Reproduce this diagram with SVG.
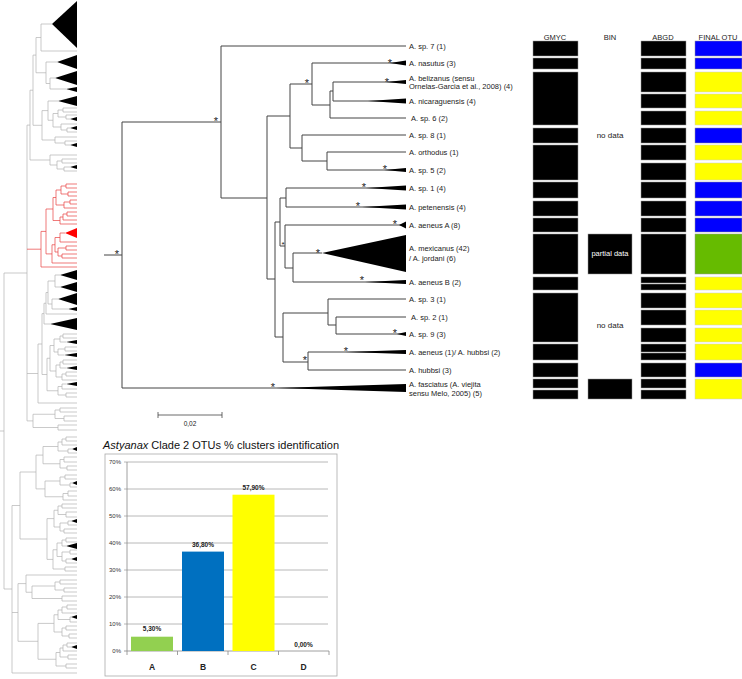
<svg xmlns="http://www.w3.org/2000/svg" width="742" height="679" viewBox="0 0 742 679">
<style>
.ov{fill:none;stroke:#b3b3b3;stroke-width:0.7}
.ovr{fill:none;stroke:#e84040;stroke-width:0.7}
.tri{fill:#000}
.br{fill:none;stroke:#444;stroke-width:1}
.lb{font-family:"Liberation Sans",Arial,sans-serif;font-size:7.5px;fill:#222}
.ast{font-family:"Liberation Sans",Arial,sans-serif;font-size:11px;fill:#222;text-anchor:middle}
.hd{font-family:"Liberation Sans",Arial,sans-serif;font-size:7.5px;fill:#222;text-anchor:middle}
.bk{fill:#000;stroke:#999;stroke-width:0.5}
.bl{fill:#0000ff;stroke:#999;stroke-width:0.5}
.ye{fill:#ffff00;stroke:#ccc;stroke-width:0.5}
.gr{fill:#66bb00;stroke:#999;stroke-width:0.5}
.nd{font-family:"Liberation Sans",Arial,sans-serif;font-size:8px;fill:#222;text-anchor:middle}
.ax{font-family:"Liberation Sans",Arial,sans-serif;font-size:6px;fill:#333;text-anchor:end}
.dl{font-family:"Liberation Sans",Arial,sans-serif;font-size:6.5px;font-weight:bold;fill:#222;text-anchor:middle}
.cl{font-family:"Liberation Sans",Arial,sans-serif;font-size:8.5px;font-weight:bold;fill:#222;text-anchor:middle}
.grid{stroke:#a6a6a6;stroke-width:0.8}
</style>

<g id="overview-tree">
<path class="ov" d="M41,24V51 M41,24H52 M41,51H77 M50,78V89 M50,78H55 M50,89H66 M46,62V83.5 M46,62H57 M46,83.5H50 M36,37.5V72.75 M36,37.5H41 M36,72.75H46 M63,108V112 M63,108H77 M63,112H77 M66,115V119 M66,115H77 M66,119H70 M58,110V117 M58,110H63 M58,117H66 M67,128V132 M67,128H70 M67,132H77 M61,124V130 M61,124H77 M61,130H67 M53,113.5V127 M53,113.5H58 M53,127H61 M48,101V120.25 M48,101H58 M48,120.25H53 M65,141V145 M65,141H77 M65,145H70 M55,137V143 M55,137H77 M55,143H65 M42,110.6V140 M42,110.6H48 M42,140H55 M33,55.1V125.3 M33,55.1H36 M33,125.3H42 M62,159V163 M62,159H77 M62,163H77 M64,167V171 M64,167H70 M64,171H77 M57,161V169 M57,161H62 M57,169H64 M50,155V165 M50,155H77 M50,165H57 M30,90.2V160 M30,90.2H33 M30,160H50
M55,275V287 M55,275H60 M55,287H60 M52,299V309 M52,299H58 M52,309H68 M48,281V304 M48,281H55 M48,304H52 M46,292.5V314 M46,292.5H48 M46,314H77 M44,303.25V324 M44,303.25H46 M44,324H50 M63,334V338 M63,334H77 M63,338H77 M60,336V342 M60,336H63 M60,342H66 M65,347V351 M65,347H77 M65,351H77 M58,349V355 M58,349H65 M58,355H64 M54,339V352 M54,339H60 M54,352H58 M63,360V364 M63,360H77 M63,364H77 M60,362V368 M60,362H63 M60,368H66 M66,372V376 M66,372H77 M66,376H77 M62,374V380 M62,374H66 M62,380H77 M56,365V377 M56,365H60 M56,377H62 M50,345.5V371 M50,345.5H54 M50,371H56 M62,384V389 M62,384H66 M62,389H77 M66,393V397 M66,393H77 M66,397H77 M58,386.5V395 M58,386.5H62 M58,395H66 M47,358.25V390.75 M47,358.25H50 M47,390.75H58 M42,313.6V374.5 M42,313.6H44 M42,374.5H47 M38,344V403 M38,344H42 M38,403H77
M60,408V412 M60,408H77 M60,412H77 M64,416V421 M64,416H77 M64,421H77 M55,410V418.5 M55,410H60 M55,418.5H64 M58,425V430 M58,425H77 M58,430H77 M33,414.25V427.5 M33,414.25H55 M33,427.5H58
M27,125.1V420.9 M27,125.1H30 M27,373.5H38 M27,420.9H33
M66,437V441 M66,437H77 M66,441H77 M62,439V445 M62,439H66 M62,445H77 M68,449V453 M68,449H72 M68,453H77 M58,442V451 M58,442H62 M58,451H68 M64,457V462 M64,457H77 M64,462H77 M67,466V470 M67,466H77 M67,470H77 M60,459.5V468 M60,459.5H64 M60,468H67 M43,446.5V463.75 M43,446.5H58 M43,463.75H60
M65,475V479 M65,475H77 M65,479H77 M70,483V487 M70,483H72 M70,487H77 M60,477V485 M60,477H65 M60,485H70 M68,491V496 M68,491H77 M68,496H77 M63,493.5V500 M63,493.5H68 M63,500H77 M45,481V496.75 M45,481H60 M45,496.75H63 M36,455.1V488.9 M36,455.1H43 M36,488.9H45
M62,504V508 M62,504H77 M62,508H77 M66,512V517 M66,512H77 M66,517H77 M58,506V514.5 M58,506H62 M58,514.5H66 M68,521V525 M68,521H71 M68,525H77 M64,529V533 M64,529H77 M64,533H77 M60,523V531 M60,523H68 M60,531H64 M54,510.25V527 M54,510.25H58 M54,527H60 M66,538V542 M66,538H77 M66,542H77 M62,540V546 M62,540H66 M62,546H66 M70,550V554 M70,550H77 M70,554H77 M66,559V563 M66,559H71 M66,563H77 M62,552V561 M62,552H70 M62,561H66 M57,543V556.5 M57,543H62 M57,556.5H62 M65,567V571 M65,567H77 M65,571H77 M53,549.75V569 M53,549.75H57 M53,569H65 M47,518.6V559.4 M47,518.6H54 M47,559.4H53 M20,472V539 M20,472H36 M20,539H47
M60,580V584 M60,580H77 M60,584H77 M64,588V592 M64,588H77 M64,592H77 M55,582V590 M55,582H60 M55,590H64 M62,596V601 M62,596H77 M62,601H77 M32,586V598.5 M32,586H55 M32,598.5H62 M26,575V592.25 M26,575H77 M26,592.25H32
M67,605V609 M67,605H77 M67,609H77 M62,607V613 M62,607H67 M62,613H77 M70,617V622 M70,617H71 M70,622H77 M58,610V619.5 M58,610H62 M58,619.5H70 M66,626V630 M66,626H77 M66,630H77 M69,634V638 M69,634H77 M69,638H77 M62,628V636 M62,628H66 M62,636H69 M54,614.75V632 M54,614.75H58 M54,632H62 M67,643V647 M67,643H77 M67,647H71 M63,645V651 M63,645H67 M63,651H77 M68,655V659 M68,655H77 M68,659H77 M60,648V657 M60,648H63 M60,657H68 M66,664V668 M66,664H77 M66,668H77 M56,652.5V666 M56,652.5H60 M56,666H66 M38,623.4V659.25 M38,623.4H54 M38,659.25H56 M18,583.6V641.3 M18,583.6H26 M18,641.3H38
M12,505.5V673 M12,505.5H20 M12,612.5H18 M12,673H77 M4,273V589 M4,273H27 M4,589H12 M0,431H4"/>
<path class="ovr" d="M66,184V188 M66,184H77 M66,188H77 M68,192V196 M68,192H77 M68,196H77 M61,186V194 M61,186H66 M61,194H68 M70,200V204 M70,200H77 M70,204H77 M64,202V208 M64,202H70 M64,208H77 M56,190V205 M56,190H61 M56,205H64 M67,212V216 M67,212H77 M67,216H77 M63,214V220 M63,214H67 M63,220H77 M60,217V224 M60,217H63 M60,224H77 M53,197.5V220.5 M53,197.5H56 M53,220.5H60 M60,233V242 M60,233H65 M60,242H77 M66,246V250 M66,246H77 M66,250H77 M62,254V258 M62,254H77 M62,258H77 M58,248V256 M58,248H66 M58,256H62 M55,237.5V252 M55,237.5H60 M55,252H58 M52,244.75V263 M52,244.75H55 M52,263H77 M46,209V253.9 M46,209H53 M46,253.9H52 M41,231.4V267 M41,231.4H46 M41,267H77 M27,249.2H41"/>
<g class="tri">
<polygon points="52,24 77,1 77,48"/>
<polygon points="57,62 77,55 77,69"/>
<polygon points="55,78 77,71 77,85"/>
<polygon points="66,89 77,87 77,92"/>
<polygon points="58,101 77,96 77,106"/>
<polygon points="70,119 77,117 77,121"/>
<polygon points="70,128 77,126 77,130"/>
<polygon points="70,145 77,143 77,147"/>
<polygon points="70,167 77,165 77,169"/>
<polygon points="60,275 77,270 77,280"/>
<polygon points="60,287 77,282 77,292"/>
<polygon points="58,299 77,293 77,305"/>
<polygon points="68,309 77,307 77,311"/>
<polygon points="50,324 77,318 77,330"/>
<polygon points="66,342 77,340 77,344"/>
<polygon points="64,355 77,353 77,357"/>
<polygon points="66,368 77,366 77,370"/>
<polygon points="66,384 77,382 77,386"/>
<polygon points="72,449 77,447 77,451"/>
<polygon points="72,483 77,481 77,485"/>
<polygon points="71,521 77,519 77,523"/>
<polygon points="66,546 77,543 77,549"/>
<polygon points="71,559 77,557 77,561"/>
<polygon points="71,617 77,615 77,619"/>
<polygon points="71,647 77,645 77,649"/>
</g>
<polygon points="65,233 77,228 77,238" fill="#ff0000"/>
</g>

<g id="connectors">
<path class="br" d="M104,255H122 M122,122V388 M122,122H221 M221,46V198 M221,46H406 M221,198H267 M267,116V279 M267,116H290 M290,84V148 M290,84H312 M312,63V105 M312,63H406 M312,105H330 M330,91V118 M330,91H333 M333,82V101 M333,82H406 M333,101H406 M330,118H406 M290,148H302 M302,135V161 M302,135H406 M302,161H327 M327,152V170 M327,152H406 M327,170H406 M267,279H275 M275,222V337 M275,222H280 M280,198V246 M280,198H286 M286,188V207 M286,188H406 M286,207H406 M280,246H285 M285,225V268 M285,225H406 M285,268H293 M293,253V282 M293,253H322 M293,282H406 M275,337H283 M283,313V362 M283,313H328 M328,299V325 M328,299H406 M328,325H336 M336,317V334 M336,317H406 M336,334H406 M283,362H308 M308,352V370 M308,352H406 M308,370H406 M122,388H406"/>
</g>

<g id="asterisks">
<text class="ast" x="117" y="257.5">*</text>
<text class="ast" x="216" y="124.5">*</text>
<text class="ast" x="307" y="87">*</text>
<text class="ast" x="390" y="67">*</text>
<text class="ast" x="387" y="85.5">*</text>
<text class="ast" x="385" y="173">*</text>
<text class="ast" x="364" y="191">*</text>
<text class="ast" x="358" y="209.5">*</text>
<text class="ast" x="395" y="228">*</text>
<text class="ast" x="318" y="256.5">*</text>
<text class="ast" x="362" y="284">*</text>
<text class="ast" x="283" y="247" style="font-size:8px">*</text>
<text class="ast" x="395" y="337">*</text>
<text class="ast" x="346" y="355">*</text>
<text class="ast" x="305" y="364">*</text>
<text class="ast" x="273" y="390.5">*</text>
</g>

<g id="tip-sp7"><text class="lb" x="409" y="48.7">A. sp. 7 (1)</text></g>
<g id="tip-nasutus"><polygon class="tri" points="390,63 406,60.5 406,65.5"/><text class="lb" x="409" y="65.7">A. nasutus (3)</text></g>
<g id="tip-belizanus"><polygon class="tri" points="386,82 406,80 406,84"/><text class="lb" x="409" y="80.5">A. belizanus (sensu</text><text class="lb" x="409" y="89">Ornelas-Garcia et al., 2008) (4)</text></g>
<g id="tip-nicaraguensis"><polygon class="tri" points="368,101 406,98.5 406,103.5"/><text class="lb" x="409" y="103.7">A. nicaraguensis (4)</text></g>
<g id="tip-sp6"><text class="lb" x="411" y="120.7">A. sp. 6 (2)</text></g>
<g id="tip-sp8"><text class="lb" x="409" y="137.7">A. sp. 8 (1)</text></g>
<g id="tip-orthodus"><text class="lb" x="409" y="154.7">A. orthodus (1)</text></g>
<g id="tip-sp5"><polygon class="tri" points="384,170 406,168 406,172"/><text class="lb" x="409" y="172.7">A. sp. 5 (2)</text></g>
<g id="tip-sp1"><polygon class="tri" points="366,188 406,185.5 406,190.5"/><text class="lb" x="409" y="190.7">A. sp. 1 (4)</text></g>
<g id="tip-petenensis"><polygon class="tri" points="362,207 406,204.5 406,209.5"/><text class="lb" x="409" y="209.7">A. petenensis (4)</text></g>
<g id="tip-aeneusA"><polygon class="tri" points="399,225 406,221.5 406,228.5"/><text class="lb" x="409" y="227.7">A. aeneus A (8)</text></g>
<g id="tip-mexicanus"><polygon class="tri" points="322,253 406,235 406,272"/><text class="lb" x="409" y="250.5">A. mexicanus (42)</text><text class="lb" x="409" y="260.5">/ A. jordani (6)</text></g>
<g id="tip-aeneusB"><polygon class="tri" points="365,282 406,280 406,284"/><text class="lb" x="409" y="284.7">A. aeneus B (2)</text></g>
<g id="tip-sp3"><text class="lb" x="409" y="301.7">A. sp. 3 (1)</text></g>
<g id="tip-sp2"><text class="lb" x="411" y="319.7">A. sp. 2 (1)</text></g>
<g id="tip-sp9"><polygon class="tri" points="397,334 406,332 406,336"/><text class="lb" x="409" y="336.7">A. sp. 9 (3)</text></g>
<g id="tip-aeneus-hubbsi"><polygon class="tri" points="345,352 406,350 406,354"/><text class="lb" x="409" y="354.7">A. aeneus (1)/ A. hubbsi (2)</text></g>
<g id="tip-hubbsi"><text class="lb" x="409" y="372.7">A. hubbsi (3)</text></g>
<g id="tip-fasciatus"><polygon class="tri" points="276,388 406,384 406,392"/><text class="lb" x="409" y="386.5">A. fasciatus (A. viejita</text><text class="lb" x="409" y="396">sensu Melo, 2005) (5)</text></g>

<g id="scale-bar">
<path d="M158,415H222 M158,412V418 M222,412V418" stroke="#444" stroke-width="0.8" fill="none"/>
<text class="lb" x="190" y="426" text-anchor="middle" style="font-size:6.5px">0,02</text>
</g>

<g id="col-gmyc">
<text class="hd" x="555" y="39.5">GMYC</text>
<rect class="bk" x="533" y="41" width="45" height="15"/>
<rect class="bk" x="533" y="58" width="45" height="11"/>
<rect class="bk" x="533" y="72" width="45" height="53"/>
<rect class="bk" x="533" y="128" width="45" height="15"/>
<rect class="bk" x="533" y="145" width="45" height="35"/>
<rect class="bk" x="533" y="182" width="45" height="16"/>
<rect class="bk" x="533" y="201" width="45" height="15"/>
<rect class="bk" x="533" y="218" width="45" height="14"/>
<rect class="bk" x="533" y="234" width="45" height="40"/>
<rect class="bk" x="533" y="277" width="45" height="13"/>
<rect class="bk" x="533" y="293" width="45" height="49"/>
<rect class="bk" x="533" y="344" width="45" height="16"/>
<rect class="bk" x="533" y="363" width="45" height="14"/>
<rect class="bk" x="533" y="379" width="45" height="9"/>
<rect class="bk" x="533" y="390" width="45" height="9"/>
</g>

<g id="col-bin">
<text class="hd" x="610" y="39.5">BIN</text>
<text class="nd" x="610" y="137.5">no data</text>
<rect class="bk" x="588" y="234" width="44" height="40"/>
<text class="nd" x="610" y="255.5" style="fill:#fff;font-size:7.5px">partial data</text>
<text class="nd" x="610" y="327.5">no data</text>
<rect class="bk" x="588" y="379" width="44" height="20"/>
</g>

<g id="col-abgd">
<text class="hd" x="663" y="39.5">ABGD</text>
<rect class="bk" x="641" y="41" width="45" height="15"/>
<rect class="bk" x="641" y="58" width="45" height="11"/>
<rect class="bk" x="641" y="72" width="45" height="20"/>
<rect class="bk" x="641" y="94" width="45" height="14"/>
<rect class="bk" x="641" y="111" width="45" height="14"/>
<rect class="bk" x="641" y="128" width="45" height="15"/>
<rect class="bk" x="641" y="145" width="45" height="15"/>
<rect class="bk" x="641" y="163" width="45" height="17"/>
<rect class="bk" x="641" y="182" width="45" height="16"/>
<rect class="bk" x="641" y="201" width="45" height="15"/>
<rect class="bk" x="641" y="218" width="45" height="14"/>
<rect class="bk" x="641" y="234" width="45" height="40"/>
<rect class="bk" x="641" y="277" width="45" height="6"/>
<rect class="bk" x="641" y="284" width="45" height="6"/>
<rect class="bk" x="641" y="293" width="45" height="15"/>
<rect class="bk" x="641" y="310" width="45" height="15"/>
<rect class="bk" x="641" y="328" width="45" height="14"/>
<rect class="bk" x="641" y="344" width="45" height="8"/>
<rect class="bk" x="641" y="353" width="45" height="7"/>
<rect class="bk" x="641" y="363" width="45" height="14"/>
<rect class="bk" x="641" y="379" width="45" height="9"/>
<rect class="bk" x="641" y="390" width="45" height="9"/>
</g>

<g id="col-final">
<text class="hd" x="718" y="39.5">FINAL OTU</text>
<rect class="bl" x="695" y="41" width="47" height="15"/>
<rect class="bl" x="695" y="58" width="47" height="11"/>
<rect class="ye" x="695" y="72" width="47" height="20"/>
<rect class="ye" x="695" y="94" width="47" height="14"/>
<rect class="ye" x="695" y="111" width="47" height="14"/>
<rect class="bl" x="695" y="128" width="47" height="15"/>
<rect class="ye" x="695" y="145" width="47" height="15"/>
<rect class="ye" x="695" y="163" width="47" height="17"/>
<rect class="bl" x="695" y="182" width="47" height="16"/>
<rect class="bl" x="695" y="201" width="47" height="15"/>
<rect class="bl" x="695" y="218" width="47" height="14"/>
<rect class="gr" x="695" y="234" width="47" height="40"/>
<rect class="ye" x="695" y="277" width="47" height="13"/>
<rect class="ye" x="695" y="293" width="47" height="15"/>
<rect class="ye" x="695" y="310" width="47" height="15"/>
<rect class="ye" x="695" y="328" width="47" height="14"/>
<rect class="ye" x="695" y="344" width="47" height="16"/>
<rect class="bl" x="695" y="363" width="47" height="14"/>
<rect class="ye" x="695" y="379" width="47" height="20"/>
</g>

<g id="chart">
<text x="221" y="449" text-anchor="middle" style="font-family:'Liberation Sans',Arial,sans-serif;font-size:11px;fill:#111"><tspan font-style="italic">Astyanax</tspan> Clade 2 OTUs % clusters identification</text>
<rect x="105" y="454" width="232" height="222" fill="#fff" stroke="#aaa" stroke-width="0.8"/>
<g class="grid">
<path d="M124,462H328 M124,489H328 M124,516H328 M124,543H328 M124,570H328 M124,597H328 M124,624H328"/>
</g>
<path d="M127,462V651 M124,651H329 M127,651V655 M177.5,651V655 M228,651V655 M278.5,651V655 M329,651V655" stroke="#888" stroke-width="0.8" fill="none"/>
<text class="ax" x="121" y="464">70%</text>
<text class="ax" x="121" y="491">60%</text>
<text class="ax" x="121" y="518">50%</text>
<text class="ax" x="121" y="545">40%</text>
<text class="ax" x="121" y="572">30%</text>
<text class="ax" x="121" y="599">20%</text>
<text class="ax" x="121" y="626">10%</text>
<text class="ax" x="121" y="653">0%</text>
<rect x="131" y="636.7" width="42" height="14.3" fill="#92d050"/>
<rect x="182" y="551.6" width="42" height="99.4" fill="#0070c0"/>
<rect x="232.5" y="494.7" width="42" height="156.3" fill="#ffff00"/>
<text class="dl" x="152" y="631">5,30%</text>
<text class="dl" x="203" y="546.5">36,80%</text>
<text class="dl" x="253.5" y="489.5">57,90%</text>
<text class="dl" x="303.5" y="646.5">0,00%</text>
<text class="cl" x="152" y="670">A</text>
<text class="cl" x="203" y="670">B</text>
<text class="cl" x="253.5" y="670">C</text>
<text class="cl" x="303.5" y="670">D</text>
</g>
</svg>
